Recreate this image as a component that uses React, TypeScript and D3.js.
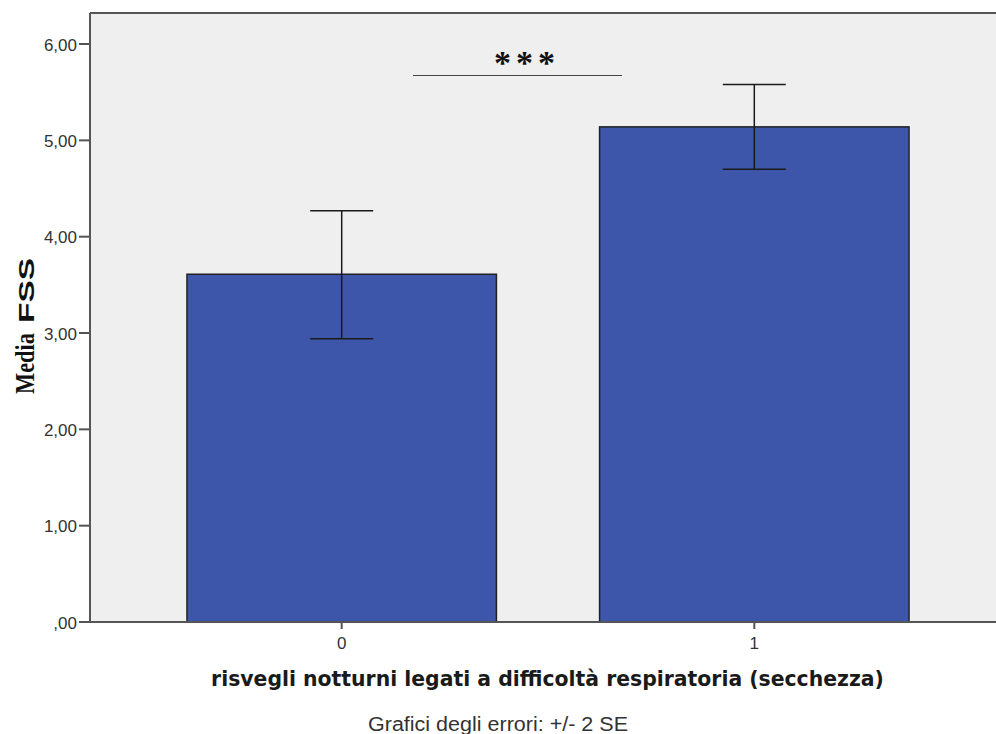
import React from "react";
import * as d3 from "d3";

const categories = ["0", "1"];
const means = [3.61, 5.14];
const upper = [4.27, 5.58];
const lower = [2.94, 4.7];
const yTicks = [0, 1, 2, 3, 4, 5, 6];
const yTickLabels = [",00", "1,00", "2,00", "3,00", "4,00", "5,00", "6,00"];

export default function App() {
  const W = 996, H = 734;
  const left = 90, top = 13, bottom = 622, right = 1006;
  const y = d3.scaleLinear().domain([0, 6]).range([bottom, bottom - 6 * 96.33]);
  const x = d3.scaleBand().domain(categories).range([left, right]).paddingInner(0.25).paddingOuter(0.235);
  const bw = x.bandwidth();
  const capW = 63;
  const sans = "Liberation Sans, Arial, sans-serif";
  return (
    <svg width={W} height={H} style={{ position: "absolute", left: 0, top: 0, background: "#fff" }}>
      <rect x={left} y={top} width={right - left} height={bottom - top} fill="#efefef" />
      <line x1={left} x2={right} y1={top} y2={top} stroke="#555" strokeWidth={2} />
      {categories.map((c, i) => {
        const cx = (x(c) as number) + bw / 2;
        return (
          <g key={c}>
            <rect x={x(c)} y={y(means[i])} width={bw} height={bottom - y(means[i])} fill="#3d56aa" stroke="#222" strokeWidth={1.5} />
            <line x1={cx} x2={cx} y1={y(upper[i])} y2={y(lower[i])} stroke="#1a1a1a" strokeWidth={1.5} />
            <line x1={cx - capW / 2} x2={cx + capW / 2} y1={y(upper[i])} y2={y(upper[i])} stroke="#1a1a1a" strokeWidth={1.5} />
            <line x1={cx - capW / 2} x2={cx + capW / 2} y1={y(lower[i])} y2={y(lower[i])} stroke="#1a1a1a" strokeWidth={1.5} />
            <line x1={cx} x2={cx} y1={bottom} y2={bottom + 7} stroke="#555" strokeWidth={2} />
            <text x={cx} y={649} textAnchor="middle" fontFamily={sans} fontSize={17} fill="#333">{c}</text>
          </g>
        );
      })}
      <line x1={left} x2={left} y1={top} y2={bottom} stroke="#555" strokeWidth={2} />
      <line x1={left} x2={right} y1={bottom} y2={bottom} stroke="#555" strokeWidth={2} />
      {yTicks.map((t, i) => (
        <g key={t}>
          <line x1={left - 11} x2={left} y1={y(t)} y2={y(t)} stroke="#555" strokeWidth={2} />
          <text x={left - 13} y={y(t) + 6.5} textAnchor="end" fontFamily={sans} fontSize={17} fill="#333">{yTickLabels[i]}</text>
        </g>
      ))}
      <line x1={413} x2={622} y1={75.5} y2={75.5} stroke="#444" strokeWidth={1.2} />
      <text x={527} y={74} textAnchor="middle" fontFamily="Liberation Serif, Times New Roman, serif" fontWeight="bold" fontSize={34} fill="#111" letterSpacing={5}>***</text>
      <g transform="translate(34,0) rotate(-90)">
        <text x={-394} y={0} fontFamily="Liberation Serif, Times New Roman, serif" fontSize={27} fontWeight="bold" fill="#111" textLength={61} lengthAdjust="spacingAndGlyphs">Media</text>
        <text x={-323} y={0} fontFamily={sans} fontSize={22.5} fontWeight="bold" fill="#111" textLength={65} lengthAdjust="spacingAndGlyphs">FSS</text>
      </g>
      <text x={547.5} y={686} textAnchor="middle" fontFamily="DejaVu Sans, Verdana, sans-serif" fontWeight="bold" fontSize={20.4} fill="#1a1a1a">risvegli notturni legati a difficoltà respiratoria (secchezza)</text>
      <text x={368} y={731} fontFamily={sans} fontSize={20} fill="#333" textLength={260} lengthAdjust="spacingAndGlyphs">Grafici degli errori: +/- 2 SE</text>
    </svg>
  );
}
